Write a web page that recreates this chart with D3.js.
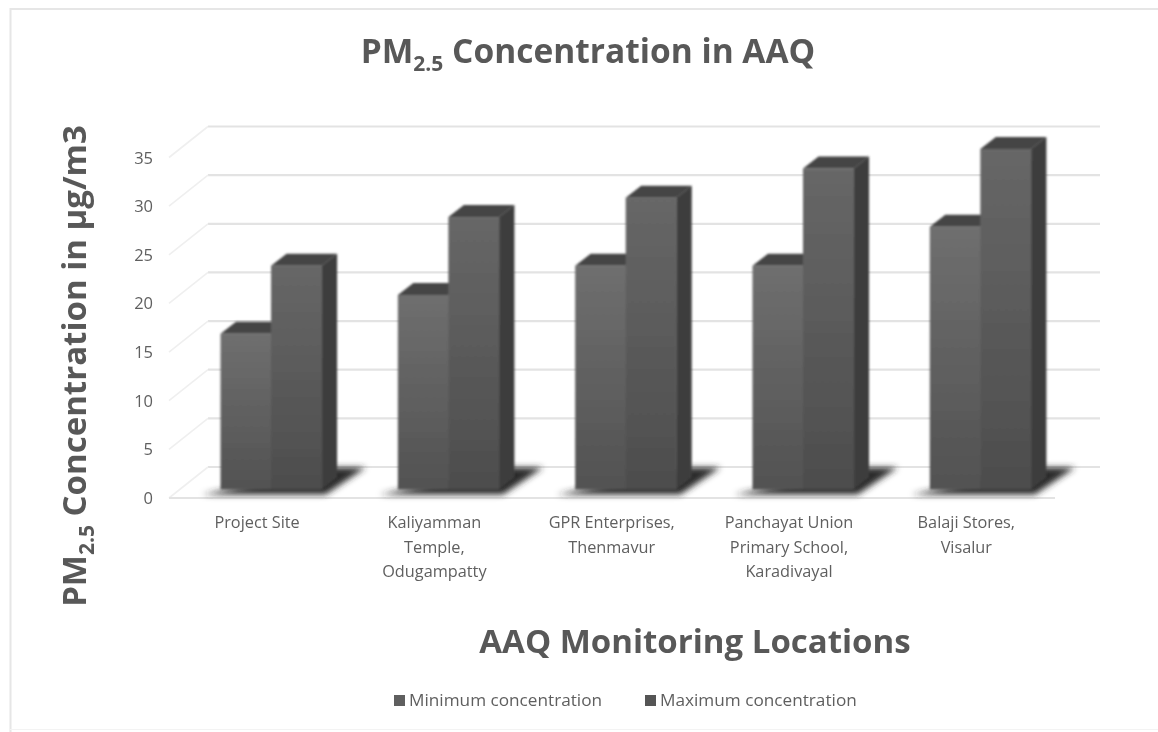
<!DOCTYPE html>
<html><head><meta charset="utf-8">
<script src="https://cdnjs.cloudflare.com/ajax/libs/d3/7.8.5/d3.min.js"></script>
<style>
html,body{margin:0;padding:0;background:#fff}
svg{display:block}
text{font-family:"Open Sans",sans-serif}
</style></head><body>
<svg id="c" width="1158" height="732"></svg>
<script>
const categories = [
  ["Project Site"],
  ["Kaliyamman","Temple,","Odugampatty"],
  ["GPR Enterprises,","Thenmavur"],
  ["Panchayat Union","Primary School,","Karadivayal"],
  ["Balaji Stores,","Visalur"]
];
const minConcentration = [16, 20, 23, 23, 27];
const maxConcentration = [23, 28, 30, 33, 35];
const seriesNames = ["Minimum concentration", "Maximum concentration"];
const yTicks = [0, 5, 10, 15, 20, 25, 30, 35];
const titleMain = "PM", titleSub = "2.5", titleRest = " Concentration in AAQ";
const yTitleRest = " Concentration in µg/m3";
const xTitle = "AAQ Monitoring Locations";

const W = 1158, H = 732;
const svg = d3.select("#c");
const defs = svg.append("defs");

const depthX = 15.5, depthY = -12;      // bar depth
const wallX = 39, wallY = -31;          // chart floor depth
const floorDrop = 8.5;

const x0 = d3.scaleBand().domain(d3.range(categories.length)).range([182.4, 1069]).paddingInner(0.43).paddingOuter(0.215);
const x1 = d3.scaleBand().domain([0, 1]).range([0, x0.bandwidth()]);
const y = d3.scaleLinear().domain([0, 35]).range([489.5, 149]);

function grad(id, top, bottom) {
  const g = defs.append("linearGradient").attr("id", id).attr("x1", 0).attr("x2", 0).attr("y1", 0).attr("y2", 1);
  g.append("stop").attr("offset", "0%").attr("stop-color", top);
  g.append("stop").attr("offset", "100%").attr("stop-color", bottom);
}
grad("g0", "#6f6f6f", "#525252");
grad("g1", "#676767", "#4d4d4d");
function blur(id, sd) {
  defs.append("filter").attr("id", id).attr("x", "-30%").attr("y", "-60%").attr("width", "160%").attr("height", "220%")
    .append("feGaussianBlur").attr("stdDeviation", sd);
}
blur("soft", 0.9);
blur("txt", 0.5);
blur("head", 0.45);
blur("shad", 3);
blur("line", 0.7);

// frame
svg.append("path").attr("d", "M10.5,732V9H1158").attr("fill", "none").attr("stroke", "#e6e6e6").attr("stroke-width", 2).attr("filter", "url(#line)");
svg.append("path").attr("d", "M10,729.5H1158").attr("fill", "none").attr("stroke", "#f3f3f3").attr("stroke-width", 1);

// gridlines: back wall + left wall
const grid = svg.append("g").attr("fill", "none").attr("filter", "url(#line)");
const gridFrontX = 169, gridRight = 1100;
yTicks.forEach(t => {
  const yy = y(t) + floorDrop;
  grid.append("path").attr("d", `M${gridFrontX + wallX},${yy + wallY}L${gridRight},${yy + wallY}`).attr("stroke", "#e3e3e3").attr("stroke-width", 2.2);
  grid.append("path").attr("d", `M${gridFrontX},${yy}L${gridFrontX + wallX},${yy + wallY}`).attr("stroke", "#efefef").attr("stroke-width", 1.6);
});
// floor front edge
grid.append("path").attr("d", `M${gridFrontX},${y(0) + floorDrop}L1055,${y(0) + floorDrop}`).attr("stroke", "#e3e3e3").attr("stroke-width", 2.2);

// y tick labels
svg.append("g").selectAll("text").data(yTicks).join("text")
  .attr("x", 153).attr("y", d => y(d) + 14.5)
  .attr("text-anchor", "end").attr("font-size", 16.5).attr("fill", "#5f5f5f").attr("filter", "url(#txt)")
  .text(d => d);

// floor shadows
const shadows = svg.append("g").attr("filter", "url(#shad)");
const barsG = svg.append("g").attr("filter", "url(#soft)");

categories.forEach((c, i) => {
  const left = x0(i), right = x0(i) + x0.bandwidth();
  shadows.append("path")
    .attr("d", `M${left - 18},${y(0) + 5}L${right + 4},${y(0) + 5}L${right + 44},${y(0) - 22}L${right + 14},${y(0) - 22}Z`)
    .attr("fill", "#2c2c2c");
  [minConcentration[i], maxConcentration[i]].forEach((v, s) => {
    const bx = left + x1(s), bw = x1.bandwidth(), top = y(v), base = y(0);
    barsG.append("path")
      .attr("d", `M${bx},${top}l${depthX},${depthY}h${bw}l${-depthX},${-depthY}Z`)
      .attr("fill", "#444444");
    barsG.append("path")
      .attr("d", `M${bx + bw},${top}l${depthX},${depthY}V${base + depthY}l${-depthX},${-depthY}Z`)
      .attr("fill", "#3d3d3d");
  });
  // fronts are drawn after both sides and tops so the taller neighbour sits correctly
  [minConcentration[i], maxConcentration[i]].forEach((v, s) => {
    const bx = left + x1(s), bw = x1.bandwidth();
    barsG.append("rect").attr("x", bx).attr("y", y(v)).attr("width", bw + 0.5).attr("height", y(0) - y(v))
      .attr("fill", `url(#g${s})`);
  });
});

// category labels
const catG = svg.append("g").attr("font-size", 16.3).attr("fill", "#5f5f5f").attr("text-anchor", "middle").attr("filter", "url(#txt)");
categories.forEach((lines, i) => {
  const cx = x0(i) + x0.bandwidth() / 2 - 14;
  lines.forEach((l, j) => catG.append("text").attr("x", cx).attr("y", 528 + j * 24.5).text(l));
});

// title
const t = svg.append("text").attr("x", 588).attr("y", 63).attr("text-anchor", "middle").attr("font-size", 33.5).attr("font-weight", 700).attr("fill", "#595959").attr("filter", "url(#head)");
t.append("tspan").text(titleMain);
t.append("tspan").attr("dy", 8).attr("font-size", 21).text(titleSub);
t.append("tspan").attr("dy", -8).text(titleRest);

// y title
const yt = svg.append("text").attr("transform", "translate(86,366) rotate(-90)").attr("text-anchor", "middle").attr("font-size", 33).attr("font-weight", 700).attr("fill", "#595959").attr("filter", "url(#head)");
yt.append("tspan").text(titleMain);
yt.append("tspan").attr("dy", 8).attr("font-size", 21).text(titleSub);
yt.append("tspan").attr("dy", -8).text(yTitleRest);

// x title
svg.append("text").attr("x", 695).attr("y", 653).attr("text-anchor", "middle").attr("font-size", 33).attr("font-weight", 700).attr("fill", "#595959").attr("filter", "url(#head)").text(xTitle);

// legend
const legendX = [394, 645];
seriesNames.forEach((n, i) => {
  svg.append("rect").attr("x", legendX[i]).attr("y", 695).attr("width", 11).attr("height", 11).attr("fill", i ? "#555" : "#5f5f5f").attr("filter", "url(#txt)");
  svg.append("text").attr("x", legendX[i] + 15).attr("y", 706).attr("font-size", 17.2).attr("fill", "#5f5f5f").attr("filter", "url(#txt)").text(n);
});
</script>
</body></html>
